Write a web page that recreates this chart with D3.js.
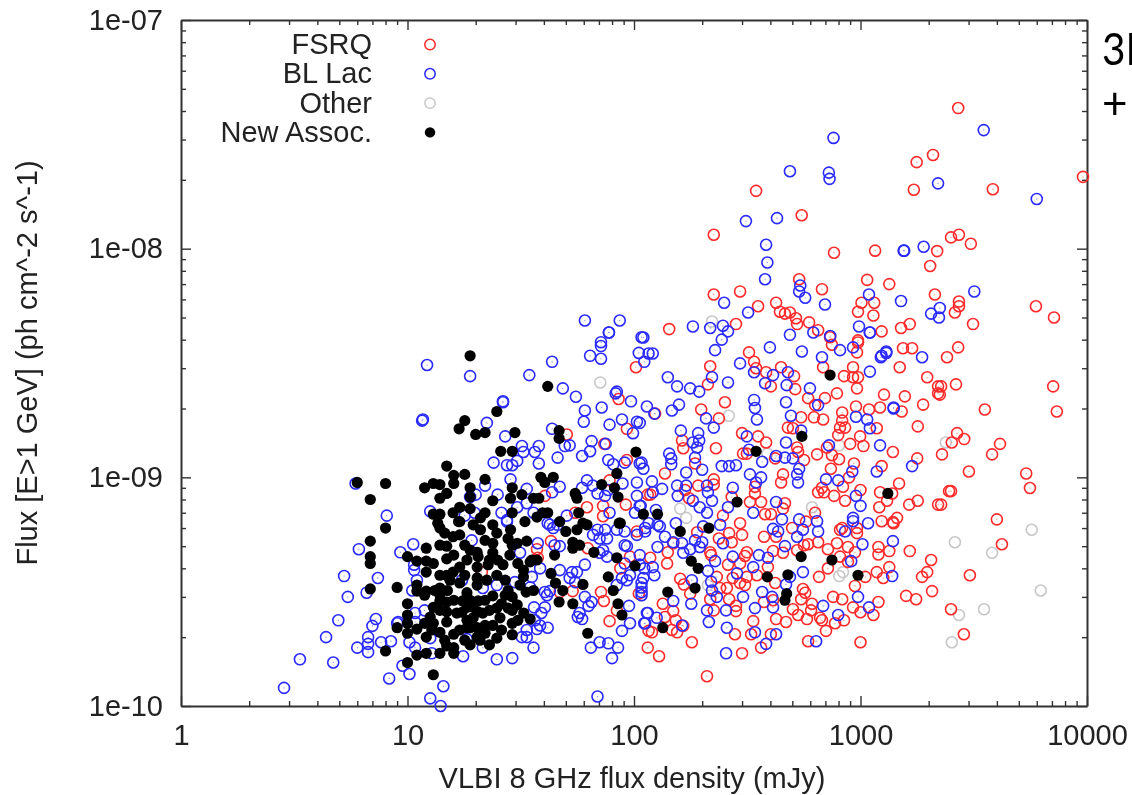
<!DOCTYPE html>
<html>
<head>
<meta charset="utf-8">
<script src="https://d3js.org/d3.v7.min.js"></script>
<style>
html, body { margin: 0; padding: 0; background: #fff; overflow: hidden; }
text { font-family: "Liberation Sans", sans-serif; fill: #222; }
</style>
</head>
<body>
<svg id="chart" width="1132" height="795"></svg>
<script>
// [VLBI flux density in mJy, gamma flux in units of 1e-10 ph cm^-2 s^-1]
var fsrqTop = [[2700,412],[2090,257],[1770,239],[1720,181],[3840,182],[9600,206],[2510,112],[2720,115],[3070,105],[2180,97.6],[2030,84],[1160,98],[764,96],[1070,73],[1340,70],[676,66.5],[2130,63],[550,140],[346,179],[225,115],[225,63],[294,65],[353,56],[536,73.5],[424,58],[441,53],[464,52],[488,52.6],[519,49.6],[525,46.8],[593,47.6],[650,44],[975,53],[1010,58],[1150,58],[1140,51],[1510,45],[1650,46.8],[1240,43.5],[143,44.5],[282,46.8],[975,39.7],[734,41]];
var fsrqCentre = [[322,35.2],[339,32],[217,30.6],[383,28.8],[346,30],[446,30.3],[509,27.7],[684,30.3],[927,30.3],[846,27.7],[927,27.4],[975,27.4],[965,24.5],[1490,30.3],[1540,36.7],[1690,36.7],[1970,27.4],[2200,25],[2200,23.3],[1270,23],[1570,22.6],[1890,20.8],[1520,19.4],[1220,20.2],[1090,19.8],[955,20.4],[830,19.2],[787,23.3],[697,22.2],[587,22.2],[515,24.3],[402,25],[630,20.7],[547,18.3],[623,18.3],[684,17.9],[830,17.7],[812,16.5],[855,16.5],[797,15.3],[1180,16.4],[1790,16.7],[996,15.1],[900,14],[1030,13.7],[1390,12.9],[1780,12.1],[1240,11.2],[1480,9.4],[1220,8.6],[1640,7.6],[1790,7.9],[2200,7.6],[1210,7.4],[1450,6.65],[1390,6.37],[1240,6.43],[965,35.2],[975,38.9],[748,38],[252,21.3],[198,19.8],[237,18.1],[124,19],[212,25.5],[300,15.6],[353,15.1],[383,14.2],[163,14.5],[165,13.4],[230,13.4],[303,12.7],[315,12.7],[420,12.1],[525,13.5],[530,12.9],[478,16.5],[503,16.4],[563,11.9],[643,12.6],[711,13.5],[748,12.5],[804,12],[936,11.5],[740,10.9],[890,10],[837,9.1],[676,9],[650,8.6],[690,8.6],[764,8.3],[855,7.9],[1000,8.8],[137,10.4],[455,10.3],[446,9.5],[342,8.5],[270,8.2],[325,7.8],[364,7.8],[464,7.7],[455,7.3],[379,6.9],[402,6.9],[342,9.1],[225,9.8],[225,9.3],[192,9.2],[186,11.5],[168,8.8],[118,8.4],[175,8.1],[247,6.8],[630,7],[830,6],[965,6],[575,6.4],[499,6],[294,6.3]];
var fsrqLower = [[115,1.8],[129,1.65],[180,1.9],[210,1.35],[120,2.1],[300,1.7],[364,1.8],[587,1.92],[1000,1.9],[279,2.06],[329,2.06],[402,2.06],[336,2.35],[424,2.4],[469,2.33],[580,2.4],[704,2.13],[772,2.3],[846,2.37],[663,2.43],[676,2.37],[530,2.5],[503,2.65],[605,2.62],[611,2.8],[927,2.7],[1000,2.57],[1140,2.5],[1200,2.85],[830,2.93],[757,3],[547,2.93],[557,3.25],[570,3.13],[656,3.67],[718,4],[945,3.35],[1050,3.67],[1260,3.63],[1340,4.05],[1180,3.85],[1870,3.67],[1970,3.85],[2070,3.18],[1760,2.93],[1590,3.03],[1650,4.76],[2050,4.35],[1340,4.76],[1200,4.96],[1200,4.6],[945,4.7],[880,4.96],[812,4.5],[787,5.15],[718,4.85],[525,4.8],[650,5.2],[587,5.1],[563,5.05],[411,4.76],[455,4.68],[375,5.5],[424,5.5],[300,5.6],[263,5.7],[270,5.2],[237,5.4],[217,4.7],[219,4.57],[315,4.7],[309,4.53],[294,4.2],[260,4.15],[390,4.05],[349,3.73],[315,3.67],[294,3.45],[309,3.38],[420,3.45],[273,3.63],[232,3.67],[257,3.28],[240,3.28],[217,2.93],[225,2.62],[263,2.93],[282,2.74],[282,2.6],[375,2.85],[411,2.9],[160,3.6],[166,3.4],[177,3.1],[134,2.8],[149,2.6],[137,2.45],[153,2.37],[165,2.24],[155,2.1],[147,2.15],[140,4.2],[118,4.45],[141,4.7],[149,5.15],[190,5.75],[812,5.9],[965,5.7],[880,4.27]];
var fsrqRight = [[2720,58.7],[2720,56],[2610,52.6],[3140,46.8],[5950,56],[7150,50],[2700,37],[2410,33.5],[2270,25],[2240,23],[2640,25.5],[3540,19.8],[7090,25],[7360,19.4],[2670,15.6],[2870,14.7],[2530,14.2],[4130,14],[3810,12.6],[2290,12.6],[3010,10.6],[5390,10.4],[5600,8.98],[2460,8.7],[2510,8.7],[2270,7.6],[1380,8.5],[1310,7.9],[4000,6.55],[4210,5.1],[3040,3.73],[2510,2.65],[2860,2.06],[1400,6.3]];
var fsrqLeft = [[102,30.3],[85.5,22],[93,16.3],[50.5,15.4],[74,14],[93,11.9],[78,9.7],[115,8.4],[92,7.6],[40.4,8.3],[62,7.4],[73,7.5],[73,6.76],[55,7],[43,5.26],[37.3,4.85],[37.6,4.45],[53.6,3.18],[71.5,3.15],[73.6,2.88],[78,2.35],[105,3.1],[116,2.13],[103,5.8],[96,4.5],[87,4],[62.5,4.9],[84,2.62],[47,3.15],[21.3,3.85]];

var blLacTop = [[3500,330],[2200,193],[6000,165],[760,305],[725,215],[730,202],[1900,102],[1550,98],[3180,65],[1090,63],[488,218],[312,132],[428,136],[1560,98],[383,104],[388,87],[379,73.5],[542,69],[536,65],[570,61],[697,57],[250,58],[319,52.6],[1510,59],[985,45.7],[1100,43],[60.7,48.5],[86.5,48.5],[77.5,43],[108,41],[182,45.7],[217,45],[247,46],[260,43.5],[244,40],[71.5,39],[2240,55],[2050,52],[2220,50],[1300,35.5],[1240,34],[1400,20]];
var blLacCentre = [[110,40.9],[228,36],[398,37],[551,35.5],[488,42],[619,43],[735,41.5],[812,36],[927,37],[1100,43],[676,33.5],[1300,35],[1230,33.5],[1870,33.5],[1100,29],[294,31.5],[339,28.8],[411,28],[478,28.8],[379,25.8],[472,25.3],[598,24.5],[221,27.4],[260,26],[141,27.4],[155,25],[177,24.5],[194,23.7],[339,21.8],[342,20.1],[349,17.9],[469,21.3],[650,20.7],[493,18.6],[955,18.4],[1400,20.2],[1070,17.9],[1100,16.4],[114,20.4],[123,19],[147,19.6],[158,20.8],[208,18.1],[225,16.5],[161,16],[192,15.6],[194,14.5],[182,14.2],[190,13.5],[186,12.2],[143,12.7],[146,12.1],[146,11.4],[315,15.1],[322,13.2],[469,14.2],[547,16],[726,13.8],[1220,13.8],[424,12.4],[464,12.2],[503,12.1],[368,11.7],[536,10.9],[525,10.3],[530,9.5],[704,9.8],[797,9.7],[920,10.6],[1180,10.6],[1690,11.2],[244,11.2],[263,11.2],[282,11.3],[200,10.8],[170,10.5],[325,10.3],[364,10],[346,9.5],[273,9],[120,9.6],[133,8.9],[121,8.6],[155,9.2],[170,9.2],[156,8.3],[182,7.9],[195,7.4],[210,9.2],[212,8.6],[221,7.9],[210,7],[260,7.4],[336,7],[424,7.8],[125,7.2],[107,7.5],[955,8.3],[1000,7.5],[927,6.65],[450,6.55],[536,6.55],[643,6.43],[1080,6.3],[116,6.3],[130,6.1],[153,6.3],[110,10.9],[108,11.6],[116,34.8],[121,34.8],[111,32],[106,17.3]];
var blLacLower = [[1390,5.26],[1020,5.1],[910,4.3],[557,3.85],[1380,3.7],[469,3.4],[975,3],[1090,2.7],[797,2.5],[684,2.74],[342,2.68],[303,3],[407,3],[411,2.7],[368,3.15],[255,2.62],[210,2.62],[179,2.8],[149,2.88],[214,2.33],[257,2.2],[342,2.1],[424,2.06],[383,1.87],[255,1.7],[637,1.92],[163,2.25],[126,2.43],[115,2.55],[112,2.3],[180,3.55],[212,3.9],[219,3.5],[221,3.2],[232,3],[228,4.3],[285,3.8],[273,4.5],[336,4.05],[356,4.57],[390,4.45],[488,3.67],[464,5],[411,5.95],[433,5.8],[525,5.5],[557,5.9],[650,5.8],[855,5.8],[927,6.43],[247,5.15],[240,6.2],[202,6.1],[200,5.2],[186,5.3],[195,4.96],[165,4.68],[163,5.15],[177,4.85],[149,5.2],[127,4.96],[137,5.5],[127,6.2],[112,5.8],[106,4.57],[111,4],[121,4.05],[123,3.73],[108,3.45],[108,3.15]];
var blLacMid = [[12.2,31],[18.9,27.7],[26.4,21.5],[26.4,21.3],[11.6,17.7],[11.7,17.9],[22.4,17.3],[27,15.1],[43.5,16.3],[34.5,28],[43.5,32],[64,34],[71.5,33],[71.5,37.5],[77.5,43],[105,35],[48.5,24.5],[55.4,22.5],[60.7,19.6],[72,20.2],[84,23.7],[83,23.3],[97,21.5],[60,17.5],[78,17],[88.5,17.9],[103,17.5],[99,15.6],[65,14.4],[75,14],[64,13],[59,12.4],[52,13.8],[49.5,13.7],[46,12.2],[32,13.7],[38,13.7],[32.5,12.9],[36.5,12.9],[24,11.6],[27.5,11.3],[29,11.3],[30.5,11.8],[38,11.5],[77,11.9],[81,11.4],[91,11.6],[106,11.5],[28.5,9.8],[62,9.7],[59,9],[65.8,9.2],[69,8.5],[74.5,8.3],[77,8.8],[89,9.4],[103,9.5],[103,8.3],[106,7.5],[78,7],[101,7],[47,9.1],[33.6,8.9],[43.5,8.6],[22,9.2],[20,8.4],[25,8.4],[18.9,8.2],[30.5,7.4],[26,7],[33.6,7.7],[27.5,6.5],[12.6,7.1],[8.1,6.8],[5.9,9.4],[17.9,6.8],[19.8,7],[41.6,6.3],[44,6],[36,7],[50.5,6.8]];
var blLacLeft = [[6.1,4.85],[5.25,3.7],[5.45,3],[4.95,2.37],[4.37,2],[3.35,1.6],[4.7,1.55],[2.85,1.2],[6,1.8],[6.7,1.72],[6.7,1.87],[6.7,2],[7,2.24],[7.25,2.4],[7.65,1.9],[8.45,1.92],[9,2.3],[8.3,1.32],[10.2,1.38],[9.5,1.5],[12.6,1.08],[14.4,1.22],[14,1],[7.4,3.63],[6.6,3.13],[9.3,4.7],[10.6,5.1],[10.7,3.93],[10.7,4.15],[11,3.55],[10.5,3.2],[10.2,1.9],[10.8,1.8],[10.8,2.55],[11.9,2.62],[12.6,1.98],[12.8,1.7],[10.8,2.33],[24.8,1.6],[29,1.62],[36,1.8],[32,2],[33.6,2],[33.6,2.15],[37.3,2.17],[41.6,2.2],[38.5,2.25],[36.5,2.37],[39,2.55],[40.4,2.7],[36.2,2.7],[42.5,3.18],[40.4,3.15],[41.3,3.05],[34.8,3.3],[29.8,3.48],[21.5,3.28],[24.8,3.38],[17.4,3.55],[47,3.93],[38.5,4],[35.4,3.67],[53.3,3.85],[56,3.85],[52,3.63],[55,3.48],[60.7,4.15],[65,2.85],[60.7,3],[63,2.74],[57.5,2.55],[59,2.4],[56.5,2.45],[96,2.3],[111,2.3],[114,2.55],[88.5,2.13],[70.5,1.9],[77,1.88],[85,1.8],[64.5,1.8],[80,1.62],[69,1.1],[95,2.74],[108,3.3],[110,3.63],[91,5.05],[93,5],[69,5.9],[74.5,5.9],[66,5.6],[70.5,5.4],[76,5.4],[84,5.9],[91,5.8],[103,5.6],[112,6],[42.5,6.2],[46,6.2],[27.5,6.4],[19.2,5.3],[31.4,4.68],[37.6,5.15],[44.6,5.05],[47,5],[21.5,1.8],[17.6,1.65],[18.3,1.96],[9.1,2.33],[73,4.8],[70.5,4.68],[76,4.5],[91,4.2],[93,3.55],[88.5,3.63],[96,3.73],[106,4.15],[84,3.38],[108,3.05]];

var otherPoints = [[71,26],[262,18.6],[388,12.7],[611,7.4],[804,13.8],[160,7.3],[170,6.65],[806,3.7],[837,3.85],[212,3.38],[221,48],[2380,14.2],[5700,5.9],[2610,5.2],[3810,4.68],[6250,3.2],[3510,2.65],[2720,2.5],[2530,1.9]];

var newAssocLeft = [[8,6],[6.85,5.26],[6.85,4.5],[6.85,4.2],[6.85,3.25],[9,3.3],[10,4.5],[11,4.3],[12.1,4.9],[12.1,4.3],[13,4.2],[12.1,3.85],[11,3.38],[11,3.18],[12.1,3.18],[10,2.8],[10,2.5],[10,2.3],[10,2.08],[9,2.2],[11,2.17],[12.1,2],[13.9,2.1],[16,2.06],[8,1.74],[10,1.55],[11,1.67],[12.1,1.7],[13.9,1.7],[14.9,1.83],[16,1.8],[16,1.7],[13,1.37],[18.9,1.85],[20.3,2],[22,2.08],[20.9,1.94],[24.8,1.98],[29,2.05],[29,2.3],[23.8,2.25],[26,2.15],[18.9,2.2]];
var newAssocRight = [[34.8,2.4],[32.6,2.55],[30.5,2.77],[27.8,2.68],[26,2.8],[23.8,3.03],[29,3],[27.8,3.2],[33.4,3.15],[36,3.2],[59.5,3.4],[48.5,3.2],[45,3.45],[46.7,2.85],[53.7,2.8],[43,3.8],[32.5,3.67],[27,3.55],[24.8,3.73],[22.7,4.15],[26.4,4.15],[30.7,4.2],[32.5,3.93],[35.4,4.35],[37.3,4.35],[44.6,4.57],[53.7,5.2],[57.5,5.05],[53.7,4.9],[66.5,4.7],[84,4.45],[101,4.1],[77,3.67],[81,3.2],[85,2.8],[88.5,2.5],[62.5,2.08],[50,5.8],[56,5.9],[59.5,6.3],[62,6.2],[86,6.3],[33.6,5.26],[29,5.05],[30.5,5.15],[27.8,5.4],[24.8,5.7],[23.8,5.15],[23.8,4.68],[22,5.3]];
var newAssocDense = [[17.9,5.05],[15.9,5.5],[14.9,5],[14.9,4.4],[20.3,4.7],[20.5,4.5],[18.3,4.35],[17,4.05],[20.3,4.05],[14.9,3.73],[15.9,3.85],[20.3,3.63],[17,3.45],[20.3,3.38],[13.9,3.28],[15,3.2],[18.3,3.13],[13.9,3.05],[13.9,2.88],[13,2.7],[14.9,2.85],[17.5,2.88],[13.9,2.62],[14.9,2.58],[16.5,2.55],[18.3,2.7],[20.5,2.88],[19.5,2.7],[20.5,2.58],[12.6,2.45],[11.9,2.3],[13,2.3],[14.9,2.33],[18.3,2.37],[18.3,2.2],[19.5,2.43],[21.5,2.55],[23,2.62],[24.8,2.68],[20.3,2.2],[13.9,6],[14.6,5.7],[19.5,6.2],[23.8,6.2],[33,6.4],[47,6.4],[16.8,6.4],[34.8,4.27]];
var newAssocFill = [[16,2.9],[17.4,2.57],[18.9,2.9],[22,2.9],[15.4,3.55],[17.9,3.73],[22.4,3.55],[23,4.35],[18.9,4.8],[16,4.57],[13.9,3.73],[13.2,3.2],[11.9,3.05],[17,2.15],[22,2.25],[25.6,2.43],[29,2.62],[27,3.05],[31.4,3.38],[25,4.35],[28.3,4.57],[21,5.9],[17,5.6],[13.9,5.05],[12.8,2.15],[14.6,1.94],[17.9,1.94],[23,1.85],[30.7,2.37]];
var newAssocUpper = [[18.9,34],[41.6,25],[24.8,19.4],[17.9,17.7],[16.9,16.3],[20,15.4],[22,15.7],[29.8,15.7],[46.7,16],[46.7,14.8],[25.8,13],[29,13],[102,12.9],[84,10.4],[14.9,11.2],[17.9,10.3],[16,10.2],[16,9.4],[13,9.4],[13.9,9.3],[11.9,9],[22,9.8],[18.9,9],[18.9,8.2],[14.9,8.5],[13.9,8.1],[6,9.5],[8,9.4],[6.85,8],[38.8,10],[44,10],[40.4,9.5],[29,9],[28.5,8.1],[32,8.4],[23.8,7.9],[36,8.1],[38,8.1],[55,8.5],[56,8.1],[72,9.3],[82,9],[85,8.2],[110,6.9],[87,6.3],[17,7.4],[18.9,7.3],[13,6.9],[13.9,6.9],[15.9,7],[22,7],[29,7],[39.5,7],[41.6,7],[57,7],[37.3,6.7],[13.6,6.3],[17,6.4],[21,6.65],[28.5,5.9]];
var newAssocFar = [[734,28],[551,15.1],[346,13],[1320,8.5],[285,7.8],[127,6.9],[160,5.8],[214,6],[179,4.3],[192,4],[186,3.28],[141,3.15],[134,2.2],[388,3.67],[478,3.75],[547,4.5],[748,4.35],[975,3.73],[472,3.1],[464,2.9]];

var seriesNames = ['FSRQ', 'BL Lac', 'Other', 'New Assoc.'];
var seriesColors = ['#ff2a2a', '#2a2aff', '#c8c8c8', '#000'];
var xDecades = [1, 10, 100, 1000, 10000];
var yDecades = [1e-10, 1e-9, 1e-8, 1e-7];
var yDecadeLabels = ['1e-10', '1e-09', '1e-08', '1e-07'];

var fsrq = [].concat(fsrqTop, fsrqCentre, fsrqLower, fsrqRight, fsrqLeft);
var blLac = [].concat(blLacTop, blLacCentre, blLacLower, blLacMid, blLacLeft);
var newAssoc = [].concat(newAssocLeft, newAssocRight, newAssocDense, newAssocFill, newAssocUpper, newAssocFar);
var fluxUnit = 1e-10;

var svg = d3.select('#chart');
var root = svg.append('g').attr('filter', 'url(#soft)');
svg.append('defs').append('filter').attr('id', 'soft')
    .attr('x', 0).attr('y', 0)
    .attr('filterUnits', 'userSpaceOnUse')
    .attr('width', 1132).attr('height', 795)
    .append('feGaussianBlur').attr('stdDeviation', 0.55);

var x = d3.scaleLog().domain([1, 10000]).range([181, 1087]);
var y = d3.scaleLog().domain([1e-10, 1e-7]).range([706, 20]);

// 1..9 in every decade, the way gnuplot does its log ticks
function logTicks(decades) {
    var ticks = [];
    decades.forEach(function (d, i) {
        ticks.push(d);
        if (i < decades.length - 1) {
            d3.range(2, 10).forEach(function (m) { ticks.push(d * m); });
        }
    });
    return ticks;
}

function isMajor(decades, v) {
    return decades.some(function (d) { return Math.abs(d / v - 1) < 1e-6; });
}

function drawAxis(axis, translate, decades, flip) {
    var g = root.append('g').attr('transform', translate).call(axis);
    g.select('.domain').attr('stroke', '#333').attr('stroke-width', 2);
    g.selectAll('.tick line')
        .attr('stroke', '#333')
        .attr('stroke-width', 1.4)
        .each(function (d) {
            var len = isMajor(decades, d) ? 10 : 5;
            var attr = d3.select(this).attr('y2') !== null ? 'y2' : 'x2';
            d3.select(this).attr(attr, len * flip);
        });
    return g;
}

var xTicks = logTicks(xDecades);
var yTicks = logTicks(yDecades);

var xBottom = d3.axisBottom(x).tickValues(xTicks).tickSizeOuter(0).tickPadding(12)
    .tickFormat(function (d) { return isMajor(xDecades, d) ? d3.format('d')(d) : ''; });
var xTop = d3.axisTop(x).tickValues(xTicks).tickSizeOuter(0).tickFormat('');
var yLeft = d3.axisLeft(y).tickValues(yTicks).tickSizeOuter(0).tickPadding(12)
    .tickFormat(function (d) {
        var i = yDecades.findIndex(function (v) { return Math.abs(v / d - 1) < 1e-6; });
        return i >= 0 ? yDecadeLabels[i] : '';
    });
var yRight = d3.axisRight(y).tickValues(yTicks).tickSizeOuter(0).tickFormat('');

drawAxis(xBottom, 'translate(0,706)', xDecades, -1);
drawAxis(xTop, 'translate(0,20)', xDecades, 1);
drawAxis(yLeft, 'translate(181,0)', yDecades, 1);
drawAxis(yRight, 'translate(1087,0)', yDecades, -1);
root.selectAll('.tick text').style('font-size', '29px').style('font-family', '"Liberation Sans", sans-serif').attr('fill', '#222');

function drawRings(data, color, cls) {
    var g = root.append('g').attr('class', cls);
    g.selectAll('circle.ring').data(data).enter().append('circle')
        .attr('class', 'ring')
        .attr('cx', function (d) { return x(d[0]); })
        .attr('cy', function (d) { return y(d[1] * fluxUnit); })
        .attr('r', 5.5)
        .attr('fill', 'none')
        .attr('stroke', color)
        .attr('stroke-width', 1.6);
    g.selectAll('circle.dot').data(data).enter().append('circle')
        .attr('class', 'dot')
        .attr('cx', function (d) { return x(d[0]); })
        .attr('cy', function (d) { return y(d[1] * fluxUnit); })
        .attr('r', 0.6)
        .attr('fill', color)
        .attr('opacity', 0.6);
}

drawRings(otherPoints, seriesColors[2], 'other');
drawRings(fsrq, seriesColors[0], 'fsrq');
drawRings(blLac, seriesColors[1], 'bllac');

root.append('g').selectAll('circle').data(newAssoc).enter().append('circle')
    .attr('cx', function (d) { return x(d[0]); })
    .attr('cy', function (d) { return y(d[1] * fluxUnit); })
    .attr('r', 5.6)
    .attr('fill', seriesColors[3]);

// legend
var legend = root.append('g');
seriesNames.forEach(function (name, i) {
    var ly = 44.5 + i * 29.3;
    legend.append('text')
        .attr('x', 372).attr('y', ly + 9.5)
        .attr('text-anchor', 'end')
        .style('font-size', '29px')
        .text(name);
    legend.append('circle')
        .attr('cx', 430).attr('cy', ly)
        .attr('r', 5.2)
        .attr('fill', i === 3 ? seriesColors[3] : 'none')
        .attr('stroke', i === 3 ? 'none' : seriesColors[i])
        .attr('stroke-width', 1.5);
});

root.append('text')
    .attr('x', 632).attr('y', 788)
    .attr('text-anchor', 'middle')
    .style('font-size', '29px')
    .text('VLBI 8 GHz flux density (mJy)');

root.append('text')
    .attr('transform', 'translate(37,363) rotate(-90)')
    .attr('text-anchor', 'middle')
    .style('font-size', '29px')
    .text('Flux [E>1 GeV] (ph cm^-2 s^-1)');

// side note cut by the slide edge
svg.append('text').attr('transform', 'translate(1102,65) scale(0.9,1)')
    .style('font-family', 'Lato').style('font-size', '45px').style('fill', '#000').text('3L');
svg.append('text').attr('x', 1102).attr('y', 119)
    .style('font-family', 'Lato').style('font-size', '44px').style('fill', '#000').text('+');
</script>
</body>
</html>
